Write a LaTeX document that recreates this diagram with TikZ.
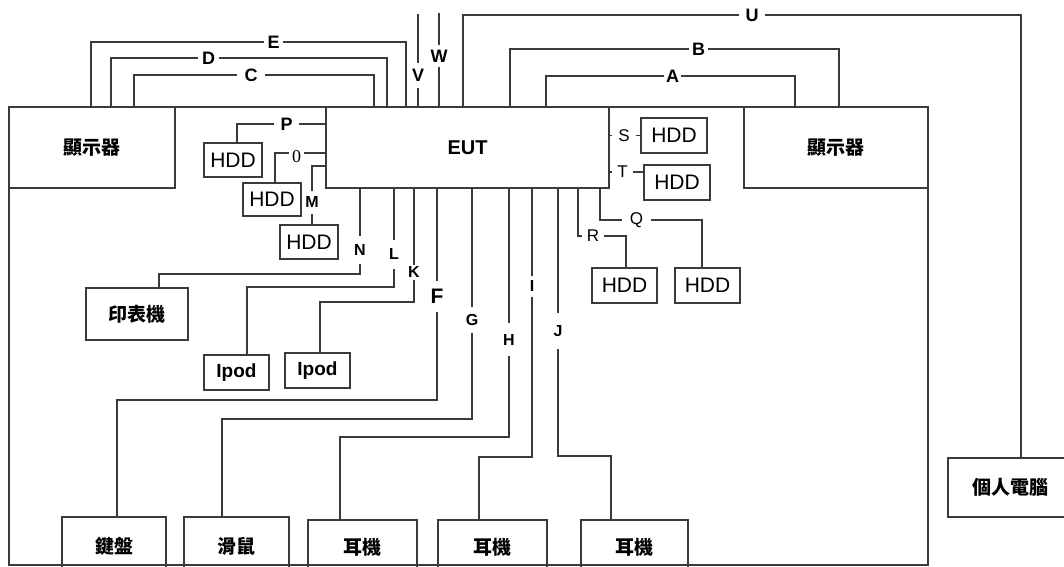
\documentclass[tikz,border=0pt]{standalone}
\usepackage{fontspec}
\setmainfont{Liberation Sans}
\newfontfamily\cjkfont{Noto Sans CJK TC}
\newfontfamily\numfont{Liberation Serif}
\usetikzlibrary{backgrounds}
\definecolor{linegray}{HTML}{3A3A3A}
\newcommand{\cnLabel}[1]{{\cjkfont\bfseries\fontsize{19}{21}\selectfont #1}}

\begin{document}
\begin{tikzpicture}[x=1pt,y=-1pt,
  box/.style={draw=linegray, line width=1.2pt, inner sep=0pt, outer sep=0pt, text=black},
  wire/.style={draw=linegray, line width=1.2pt},
  lab/.style={fill=white, inner xsep=3pt, inner ysep=2pt, font=\bfseries\fontsize{18}{20}\selectfont},
  vlab/.style={lab, inner xsep=1pt, inner ysep=6pt},
  small/.style={font=\bfseries\fontsize{16}{18}\selectfont},
  plain/.style={font=\fontsize{17}{19}\selectfont},
  hdd/.style={box, minimum width=66pt, minimum height=35pt, font=\fontsize{21}{23}\selectfont},
  ipod/.style={box, minimum width=65pt, minimum height=35pt, font=\bfseries\fontsize{19}{21}\selectfont}]
\useasboundingbox (0,0) rectangle (1064,566);
\clip (0,0) rectangle (1064,566);
\draw[wire] (9,107) rectangle (928,565);
\node[box, minimum width=166pt, minimum height=81pt] (lmon) at (92,147.5) {\cnLabel{顯示器}};
\node[box, minimum width=283pt, minimum height=81pt, font=\bfseries\fontsize{20}{22}\selectfont] (eut) at (467.5,147.5) {EUT};
\node[box, minimum width=184pt, minimum height=81pt] (rmon) at (836,147.5) {\cnLabel{顯示器}};
\node[box, minimum width=124pt, minimum height=59pt] (pc) at (1010,487.5) {\cnLabel{個人電腦}};
\node[box, minimum width=102pt, minimum height=52pt] (prn) at (137,314) {\cnLabel{印表機}};
\node[ipod] (ipodA) at (236.5,372.5) {Ipod};
\node[ipod] (ipodB) at (317.5,370.5) {Ipod};
\node[hdd, minimum width=58pt, minimum height=34pt] (hddP) at (233,160) {HDD};
\node[hdd, minimum width=58pt, minimum height=33pt] (hddO) at (272,199.5) {HDD};
\node[hdd, minimum width=58pt, minimum height=34pt] (hddM) at (309,242) {HDD};
\node[hdd] (hddS) at (674,135.5) {HDD};
\node[hdd] (hddT) at (677,182.5) {HDD};
\node[hdd, minimum width=65pt] (hddR) at (624.5,285.5) {HDD};
\node[hdd, minimum width=65pt] (hddQ) at (707.5,285.5) {HDD};
\node[box, minimum width=104pt, minimum height=58pt] (kbd) at (114,546) {\cnLabel{鍵盤}};
\node[box, minimum width=105pt, minimum height=58pt] (mouse) at (236.5,546) {\cnLabel{滑鼠}};
\node[box, minimum width=109pt, minimum height=55pt] (earA) at (362.5,547.5) {\cnLabel{耳機}};
\node[box, minimum width=109pt, minimum height=55pt] (earB) at (492.5,547.5) {\cnLabel{耳機}};
\node[box, minimum width=107pt, minimum height=55pt] (earC) at (634.5,547.5) {\cnLabel{耳機}};
\node[lab, inner xsep=7.5pt] (tC) at (251,75) {C};
\node[lab, inner xsep=4pt] (tD) at (208.5,58) {D};
\node[lab] (tE) at (273.5,42) {E};
\node[vlab] (tV) at (418,75.5) {V};
\node[vlab, inner ysep=4.5pt] (tW) at (439,56) {W};
\node[lab, inner xsep=6.5pt] (tU) at (752,15) {U};
\node[lab] (tB) at (698.5,49) {B};
\node[lab, inner xsep=2pt] (tA) at (672.5,76) {A};
\node[lab, inner xsep=6.5pt] (tP) at (286.5,124) {P};
\node[lab, font=\numfont\fontsize{18}{20}\selectfont] (tO) at (296.5,157) {0};
\node[vlab, small] (tM) at (312,202) {M};
\node[lab, plain, inner xsep=6.5pt] (tS) at (624,135.5) {S};
\node[lab, plain, inner xsep=5pt] (tT) at (622.5,172) {T};
\node[vlab, small, inner ysep=8.5pt] (tN) at (360,250) {N};
\node[vlab, small, inner ysep=9pt] (tL) at (394,254) {L};
\node[vlab, small, inner ysep=2pt] (tK) at (414,272) {K};
\node[vlab, inner ysep=8pt, font=\bfseries\fontsize{21}{23}\selectfont] (tF) at (437,296.5) {F};
\node[vlab, small, inner ysep=7pt] (tG) at (472,320) {G};
\node[vlab, small, inner ysep=11pt] (tH) at (509,339.5) {H};
\node[vlab, small, inner ysep=5pt] (tI) at (532,286) {I};
\node[vlab, small, inner ysep=12pt] (tJ) at (558,331) {J};
\node[lab, plain, inner xsep=7.5pt] (tQ) at (636.5,220) {Q};
\node[lab, plain, inner xsep=5pt] (tR) at (593,236) {R};
\coordinate (vTop) at (418,14);
\coordinate (wTop) at (439,13);
\coordinate (bN) at (360,274);
\coordinate (bL) at (394,287);
\coordinate (bK) at (414,302);
\coordinate (bF) at (437,400);
\coordinate (bG) at (472,419);
\coordinate (bH) at (509,437);
\coordinate (bI) at (532,457);
\coordinate (bJ) at (558,456);
\coordinate (bR) at (578,236);
\coordinate (bQ) at (600,220);
\begin{scope}[on background layer]
\draw[wire] ([xshift=125pt]lmon.north west) |- (tC) -| ([xshift=48pt]eut.north west);
\draw[wire] ([xshift=102pt]lmon.north west) |- (tD) -| ([xshift=61pt]eut.north west);
\draw[wire] ([xshift=82pt]lmon.north west) |- (tE) -| ([xshift=80pt]eut.north west);
\draw[wire] (vTop) -- (vTop |- eut.north);
\draw[wire] (wTop) -- (wTop |- eut.north);
\draw[wire] ([xshift=137pt]eut.north west) |- (tU) -| ([xshift=73pt]pc.north west);
\draw[wire] ([xshift=184pt]eut.north west) |- (tB) -| ([xshift=95pt]rmon.north west);
\draw[wire] ([xshift=220pt]eut.north west) |- (tA) -| ([xshift=51pt]rmon.north west);
\draw[wire] (eut.west |- tP) -- (tP) -| ([xshift=4pt]hddP.north);
\draw[wire] ([yshift=-5.5pt]eut.west) -| ([xshift=3pt]hddO.north);
\draw[wire] ([yshift=-18.5pt]eut.west) -| ([xshift=3pt]hddM.north);
\draw[wire] (eut.east |- hddS) -- (hddS.west);
\draw[wire] (eut.east |- tT) -- (tT -| hddT.west);
\draw[wire] (bN |- eut.south) -- (bN) -| ([xshift=22pt]prn.north);
\draw[wire] (bL |- eut.south) -- (bL) -| ([xshift=10.5pt]ipodA.north);
\draw[wire] (bK |- eut.south) -- (bK) -| ([xshift=2.5pt]ipodB.north);
\draw[wire] (bF |- eut.south) -- (bF) -| ([xshift=3pt]kbd.north);
\draw[wire] (bG |- eut.south) -- (bG) -| ([xshift=-14.5pt]mouse.north);
\draw[wire] (bH |- eut.south) -- (bH) -| ([xshift=-22.5pt]earA.north);
\draw[wire] (bI |- eut.south) -- (bI) -| ([xshift=-13.5pt]earB.north);
\draw[wire] (bJ |- eut.south) -- (bJ) -| ([xshift=-23.5pt]earC.north);
\draw[wire] (bR |- eut.south) -- (bR) -| ([xshift=1.5pt]hddR.north);
\draw[wire] (bQ |- eut.south) -- (bQ) -| ([xshift=-5.5pt]hddQ.north);
\end{scope}
\end{tikzpicture}
\end{document}
